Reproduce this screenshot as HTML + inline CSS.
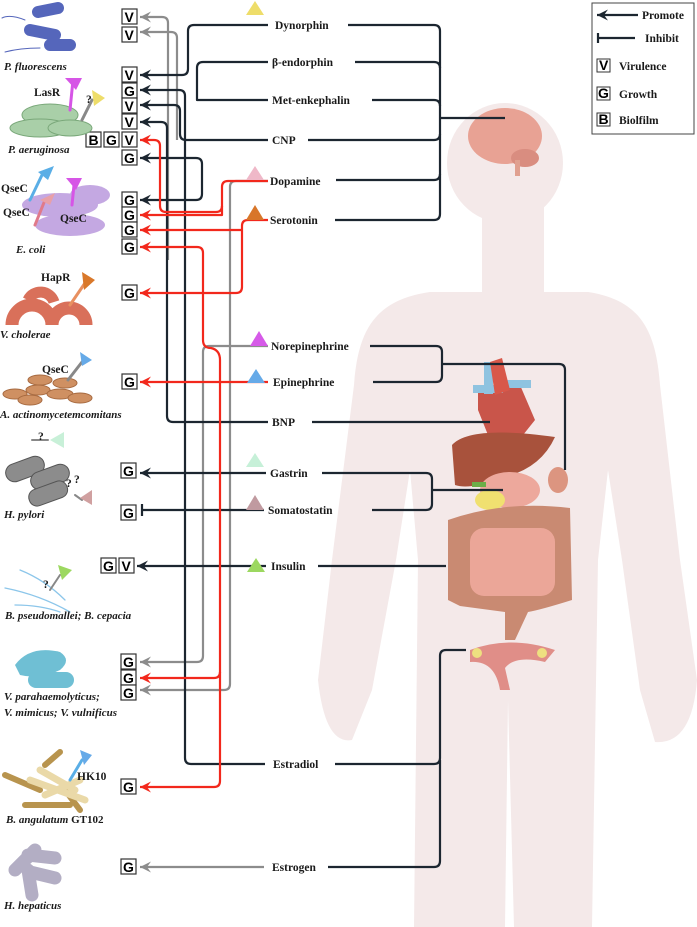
<!DOCTYPE html>
<html><head><meta charset="utf-8"><style>
html,body{margin:0;padding:0;background:#fff}
svg{display:block}
.lb{font-family:"Liberation Serif",serif;font-weight:bold;font-size:11.5px;fill:#1a1a1a}
.sp{font-family:"Liberation Serif",serif;font-weight:bold;font-style:italic;font-size:11px;fill:#1a1a1a}
.bx{font-family:"Liberation Sans",sans-serif;font-weight:bold;font-size:14px;fill:#000}
.k{fill:none;stroke:#1c2630;stroke-width:2.2;stroke-linejoin:round}
.r{fill:none;stroke:#f2281c;stroke-width:2.2;stroke-linejoin:round}
.g{fill:none;stroke:#8c8c8c;stroke-width:2.2;stroke-linejoin:round}
</style></head><body>
<svg width="697" height="927" viewBox="0 0 697 927" xmlns="http://www.w3.org/2000/svg">
<defs>
<marker id="ak" markerWidth="12" markerHeight="12" refX="11" refY="5.5" orient="auto-start-reverse" markerUnits="userSpaceOnUse"><path d="M0,0 L11,5.5 L0,11 L4,5.5Z" fill="#1c2630"/></marker>
<marker id="ar" markerWidth="12" markerHeight="12" refX="11" refY="5.5" orient="auto-start-reverse" markerUnits="userSpaceOnUse"><path d="M0,0 L11,5.5 L0,11 L4,5.5Z" fill="#f2281c"/></marker>
<marker id="ag" markerWidth="12" markerHeight="12" refX="11" refY="5.5" orient="auto-start-reverse" markerUnits="userSpaceOnUse"><path d="M0,0 L11,5.5 L0,11 L4,5.5Z" fill="#8c8c8c"/></marker>
</defs>

<!-- body silhouette -->
<g fill="#f4e9e9">
<ellipse cx="505" cy="163" rx="58" ry="60"/>
<rect x="482" y="200" width="62" height="100"/>
<path d="M430,292 C375,300 358,330 354,385 L332,560 L318,680 Q325,745 352,740 L372,690 L396,560 L410,470 L418,560 L414,927 L505,927 L508,700 L514,927 L592,927 L598,560 L608,470 L622,560 L640,690 L655,742 Q692,745 697,680 L680,560 L660,385 C656,330 640,300 588,292 Z"/>
</g>

<!-- organs -->
<g>
<ellipse cx="505" cy="136" rx="37" ry="28" fill="#e8a294"/>
<ellipse cx="525" cy="158" rx="14" ry="9" fill="#d98d80"/>
<rect x="515" y="160" width="5" height="16" fill="#e0a090"/>
<path d="M478,390 L520,385 L535,420 L515,445 L490,440 L478,410Z" fill="#c9554a"/>
<rect x="484" y="362" width="9" height="32" fill="#8fc3e0"/>
<rect x="473" y="385" width="30" height="8" fill="#8fc3e0"/>
<rect x="505" y="380" width="26" height="8" fill="#8fc3e0"/>
<path d="M490,362 L502,358 L510,390 L495,395Z" fill="#d8584a"/>
<path d="M452,445 Q470,425 555,437 Q540,470 500,478 Q470,490 455,485Z" fill="#a8523c"/>
<ellipse cx="510" cy="490" rx="30" ry="18" fill="#eda89c"/>
<ellipse cx="490" cy="500" rx="15" ry="10" fill="#f0e070"/>
<rect x="472" y="482" width="14" height="5" fill="#6cae48"/>
<ellipse cx="558" cy="480" rx="10" ry="13" fill="#dc9580"/>
<path d="M448,520 Q505,500 570,508 L572,600 Q540,610 528,612 L515,640 L505,640 L505,612 L460,606 L448,600Z" fill="#c98a72"/>
<rect x="470" y="528" width="85" height="68" rx="14" fill="#eba698"/>
<path d="M470,650 Q510,635 555,650 L545,662 Q515,655 505,668 L510,690 L500,690 Q495,660 470,662Z" fill="#e08e88"/>
<circle cx="477" cy="653" r="5" fill="#eee080"/><circle cx="542" cy="653" r="5" fill="#eee080"/>
</g>

<!-- legend -->
<rect x="592" y="3" width="102" height="131" fill="#fff" stroke="#444" stroke-width="1"/>
<path d="M638,15 H597" class="k" marker-end="url(#ak)"/>
<text x="642" y="19" class="lb" font-size="10.5">Promote</text>
<path d="M598,38 H635" class="k"/><path d="M598,33 V43" class="k"/>
<text x="645" y="42" class="lb" font-size="10.5">Inhibit</text>
<g class="bx" font-size="12"><rect x="597" y="59" width="13" height="13" fill="#fff" stroke="#333"/><text x="599" y="70">V</text>
<rect x="597" y="87" width="13" height="13" fill="#fff" stroke="#333"/><text x="598" y="98">G</text>
<rect x="597" y="113" width="13" height="13" fill="#fff" stroke="#333"/><text x="598.5" y="124">B</text></g>
<text x="619" y="70" class="lb" font-size="10.5">Virulence</text>
<text x="619" y="98" class="lb" font-size="10.5">Growth</text>
<text x="619" y="124" class="lb" font-size="10.5">Biolfilm</text>

<!-- gray paths -->
<path class="g" d="M140,17 H162 Q168,17 168,23 V260" marker-start="url(#ag)"/>
<path class="g" d="M140,32 H171 Q177,32 177,38 V140" marker-start="url(#ag)"/>
<path class="g" d="M268,346 H209 Q203,346 203,352 V656 Q203,662 197,662 H140" marker-end="url(#ag)"/>
<path class="g" d="M268,181 H236 Q230,181 230,187 V684 Q230,690 224,690 H140" marker-end="url(#ag)"/>
<path class="g" d="M264,867 H140" marker-end="url(#ag)"/>

<!-- black paths -->
<path class="k" d="M268,25 H194 Q188,25 188,31 V69 Q188,75 182,75 H140" marker-end="url(#ak)"/>
<path class="k" d="M268,62 H203 Q197,62 197,68 V100 H268"/>
<path class="k" d="M140,158 H196 Q202,158 202,164 V194 Q202,200 196,200 H140" marker-start="url(#ak)" marker-end="url(#ak)"/>
<path class="k" d="M140,90 H179 Q185,90 185,96 V758 Q185,764 191,764 H265" marker-start="url(#ak)"/>
<path class="k" d="M268,140 H186 Q180,140 180,134 V111 Q180,105 174,105 H140" marker-end="url(#ak)"/>
<path class="k" d="M268,422 H173 Q167,422 167,416 V128 Q167,122 161,122 H140" marker-end="url(#ak)"/>
<path class="k" d="M266,473 H140" marker-end="url(#ak)"/>
<path class="k" d="M264,510 H142"/><path class="k" d="M142,504 V516"/>
<path class="k" d="M266,566 H137" marker-end="url(#ak)"/>

<!-- red paths -->
<path class="r" d="M268,181 H228 Q222,181 222,187 V206 Q222,212 216,212 H166 Q160,212 160,206 V146 Q160,140 154,140 H140" marker-end="url(#ar)"/>
<path class="r" d="M222,206 V215 H140" marker-end="url(#ar)"/>
<path class="r" d="M268,220 H248 Q242,220 242,226 V287 Q242,293 236,293 H140" marker-end="url(#ar)"/>
<path class="r" d="M242,230 H140" marker-end="url(#ar)"/>
<path class="r" d="M140,247 H197 Q203,247 203,253 V340 Q203,348 211,348 Q220,350 220,360 V781 Q220,787 214,787 H140" marker-start="url(#ar)" marker-end="url(#ar)"/>
<path class="r" d="M220,672 Q220,678 214,678 H140" marker-end="url(#ar)"/>
<path class="r" d="M268,382 H140" marker-end="url(#ar)"/>

<!-- right-side black -->
<path class="k" d="M348,25 H434 Q440,25 440,31 V214 Q440,220 434,220 H335"/>
<path class="k" d="M355,62 H434 Q440,62 440,68"/>
<path class="k" d="M372,100 H434 Q440,100 440,106"/>
<path class="k" d="M308,140 H434 Q440,140 440,134"/>
<path class="k" d="M336,180 H434 Q440,180 440,174"/>
<path class="k" d="M440,118 H505"/>
<path class="k" d="M370,346 H436 Q442,346 442,352 V376 Q442,382 436,382 H373"/>
<path class="k" d="M442,364 H559 Q565,364 565,370 V470"/>
<path class="k" d="M312,422 H490"/>
<path class="k" d="M322,473 H426 Q432,473 432,479 V504 Q432,510 426,510 H372"/>
<path class="k" d="M432,490 H503"/>
<path class="k" d="M318,566 H446"/>
<path class="k" d="M335,764 H434 Q440,764 440,758 V656 Q440,650 446,650 H466"/>
<path class="k" d="M328,867 H434 Q440,867 440,861 V760"/>

<!-- hormone labels -->
<g class="lb">
<text x="275" y="29">Dynorphin</text>
<text x="272" y="66">β-endorphin</text>
<text x="272" y="104">Met-enkephalin</text>
<text x="272" y="144">CNP</text>
<text x="270" y="185">Dopamine</text>
<text x="270" y="224">Serotonin</text>
<text x="271" y="350">Norepinephrine</text>
<text x="273" y="386">Epinephrine</text>
<text x="272" y="426">BNP</text>
<text x="270" y="477">Gastrin</text>
<text x="268" y="514">Somatostatin</text>
<text x="271" y="570">Insulin</text>
<text x="273" y="768">Estradiol</text>
<text x="272" y="871">Estrogen</text>
</g>
<!-- triangles -->
<polygon points="246,15 264,15 255,1" fill="#eedd6a"/>
<polygon points="246,180 264,180 255,166" fill="#efb8c8"/>
<polygon points="246,220 264,220 255,205" fill="#d8762a"/>
<polygon points="250,346 268,346 259,331" fill="#d65ae8"/>
<polygon points="247,383 265,383 256,369" fill="#66aae8"/>
<polygon points="246,467 264,467 255,453" fill="#c6f0d8"/>
<polygon points="246,510 264,510 255,495" fill="#c09aa0"/>
<polygon points="247,572 265,572 256,558" fill="#9cd860"/>

<!-- boxes -->
<g class="bx">
<g fill="#fff" stroke="#333" stroke-width="1.2">
<rect x="122" y="9" width="15" height="15"/><rect x="122" y="27" width="15" height="15"/>
<rect x="122" y="67" width="15" height="15"/><rect x="122" y="83" width="15" height="15"/>
<rect x="122" y="98" width="15" height="15"/><rect x="122" y="114" width="15" height="15"/>
<rect x="86" y="132" width="15" height="15"/><rect x="104" y="132" width="15" height="15"/><rect x="122" y="132" width="15" height="15"/>
<rect x="122" y="150" width="15" height="15"/>
<rect x="122" y="192" width="15" height="15"/><rect x="122" y="207" width="15" height="15"/>
<rect x="122" y="222" width="15" height="15"/><rect x="122" y="239" width="15" height="15"/>
<rect x="122" y="285" width="15" height="15"/><rect x="122" y="374" width="15" height="15"/>
<rect x="121" y="463" width="15" height="15"/><rect x="121" y="505" width="15" height="15"/>
<rect x="101" y="558" width="15" height="15"/><rect x="119" y="558" width="15" height="15"/>
<rect x="121" y="654" width="15" height="15"/><rect x="121" y="670" width="15" height="15"/><rect x="121" y="685" width="15" height="15"/>
<rect x="121" y="779" width="15" height="15"/><rect x="121" y="859" width="15" height="15"/>
</g>
<text x="124.5" y="22">V</text><text x="124.5" y="40">V</text>
<text x="124.5" y="80">V</text><text x="124" y="96">G</text>
<text x="124.5" y="111">V</text><text x="124.5" y="127">V</text>
<text x="88.5" y="145">B</text><text x="106" y="145">G</text><text x="124.5" y="145">V</text>
<text x="124" y="163">G</text>
<text x="124" y="205">G</text><text x="124" y="220">G</text><text x="124" y="235">G</text><text x="124" y="252">G</text>
<text x="124" y="298">G</text><text x="124" y="387">G</text>
<text x="123" y="476">G</text><text x="123" y="518">G</text>
<text x="103" y="571">G</text><text x="121.5" y="571">V</text>
<text x="123" y="667">G</text><text x="123" y="683">G</text><text x="123" y="698">G</text>
<text x="123" y="792">G</text><text x="123" y="872">G</text>
</g>

<!-- bacteria -->
<g stroke-linecap="round">
<path d="M38,12 L58,8 M30,30 L55,35 M50,45 L70,45" stroke="#5566bb" stroke-width="12"/>
<path d="M2,18 Q10,14 25,20 M5,52 Q20,48 40,48" stroke="#5566bb" stroke-width="1" fill="none"/>
<ellipse cx="50" cy="115" rx="28" ry="11" fill="#a9cfa8" stroke="#7aa87a"/>
<ellipse cx="40" cy="128" rx="30" ry="9" fill="#a9cfa8" stroke="#7aa87a"/>
<ellipse cx="70" cy="128" rx="22" ry="8" fill="#a9cfa8" stroke="#7aa87a"/>
<path d="M73,80 L70,110" stroke="#d655e6" stroke-width="3"/><polygon points="65,78 82,78 76,90" fill="#d655e6"/>
<path d="M82,120 L92,100" stroke="#888" stroke-width="3"/><polygon points="92,90 105,98 94,106" fill="#eedd6a"/>
<ellipse cx="60" cy="205" rx="38" ry="12" fill="#c4a8e2"/>
<ellipse cx="70" cy="225" rx="35" ry="11" fill="#c4a8e2"/>
<ellipse cx="90" cy="195" rx="20" ry="10" fill="#c4a8e2"/>
<path d="M30,200 L42,175" stroke="#5aaee6" stroke-width="3"/><polygon points="38,172 54,166 48,180" fill="#5aaee6"/>
<path d="M35,225 L45,200" stroke="#e07a8a" stroke-width="3"/><polygon points="40,200 55,193 50,205" fill="#e8a0a8"/>
<path d="M72,205 L74,185" stroke="#d655e6" stroke-width="3"/><polygon points="66,178 82,178 76,190" fill="#d655e6"/>
<path d="M12,325 A20,20 0 0 1 52,325" stroke="#d9705a" stroke-width="13" fill="none" stroke-linecap="butt"/>
<path d="M52,325 A17,17 0 0 1 86,325" stroke="#d9705a" stroke-width="13" fill="none" stroke-linecap="butt"/>
<path d="M28,300 A14,14 0 0 1 54,302" stroke="#d9705a" stroke-width="11" fill="none" stroke-linecap="butt"/>
<path d="M70,305 L85,283" stroke="#e89060" stroke-width="3"/><polygon points="82,272 95,280 84,290" fill="#d9782a"/>
<g fill="#cf9062" stroke="#a76a40" stroke-width="1">
<ellipse cx="15" cy="394" rx="12" ry="5"/><ellipse cx="38" cy="390" rx="12" ry="5"/><ellipse cx="60" cy="394" rx="13" ry="5"/>
<ellipse cx="80" cy="398" rx="12" ry="5"/><ellipse cx="40" cy="380" rx="12" ry="5"/><ellipse cx="65" cy="383" rx="12" ry="5"/>
<ellipse cx="30" cy="400" rx="12" ry="5"/></g>
<path d="M68,380 L82,362" stroke="#888" stroke-width="3"/><polygon points="80,352 92,360 82,366" fill="#66aae8"/>
<g stroke="#555" stroke-width="1" fill="#8c8c8c">
<rect x="5" y="460" width="40" height="18" rx="9" transform="rotate(-20 25 469)"/>
<rect x="30" y="468" width="40" height="18" rx="9" transform="rotate(-20 50 477)"/>
<rect x="28" y="485" width="40" height="17" rx="8" transform="rotate(-20 48 493)"/></g>
<path d="M32,440 H48" stroke="#888" stroke-width="2"/><polygon points="50,440 64,432 64,448" fill="#c8f0d8"/>
<path d="M75,495 L82,500" stroke="#888" stroke-width="2"/><polygon points="80,498 92,490 92,505" fill="#d0a0a0"/>
<path d="M20,570 Q45,580 65,600 M5,588 Q40,595 70,612 M15,605 Q40,605 60,612" stroke="#8cc6ea" stroke-width="1.3" fill="none"/>
<path d="M50,590 L60,575" stroke="#888" stroke-width="2"/><polygon points="58,565 72,570 62,580" fill="#9cd860"/>
<path d="M15,665 Q30,645 60,652 Q72,660 60,670 Q40,680 20,675Z" fill="#6fbfd4"/>
<rect x="28" y="672" width="46" height="16" rx="8" fill="#6fbfd4"/>
<g stroke="#b8944e" stroke-width="6"><path d="M5,775 L40,790 M45,765 L60,752 M25,805 L70,805 M65,790 L80,810"/></g>
<g stroke="#ead9a8" stroke-width="7"><path d="M30,780 L85,800 M40,770 L75,790 M45,795 L80,780"/></g>
<path d="M70,780 L82,760" stroke="#5aaee6" stroke-width="3"/><polygon points="80,750 92,755 84,765" fill="#66aae8"/>
<path d="M15,870 L35,850 M28,855 L55,858 M30,872 L55,878 M28,870 L32,895" stroke="#b3aec4" stroke-width="13"/>
</g>
<g class="lb" font-size="10.5">
<text x="34" y="96">LasR</text><text x="86" y="103">?</text>
<text x="1" y="192">QseC</text><text x="3" y="216">QseC</text><text x="60" y="222">QseC</text>
<text x="41" y="281">HapR</text><text x="42" y="373">QseC</text>
<text x="38" y="440">?</text><text x="66" y="487">?</text><text x="74" y="483">?</text>
<text x="43" y="588">?</text><text x="77" y="780">HK10</text>
</g>
<g class="sp">
<text x="4" y="70">P. fluorescens</text>
<text x="8" y="153">P. aeruginosa</text>
<text x="16" y="253">E. coli</text>
<text x="0" y="338">V. cholerae</text>
<text x="0" y="418">A. actinomycetemcomitans</text>
<text x="4" y="518">H. pylori</text>
<text x="5" y="619">B. pseudomallei; B. cepacia</text>
<text x="4" y="700">V. parahaemolyticus;</text>
<text x="4" y="716">V. mimicus; V. vulnificus</text>
<text x="6" y="823">B. angulatum <tspan font-style="normal">GT102</tspan></text>
<text x="4" y="909">H. hepaticus</text>
</g>
</svg>
</body></html>
